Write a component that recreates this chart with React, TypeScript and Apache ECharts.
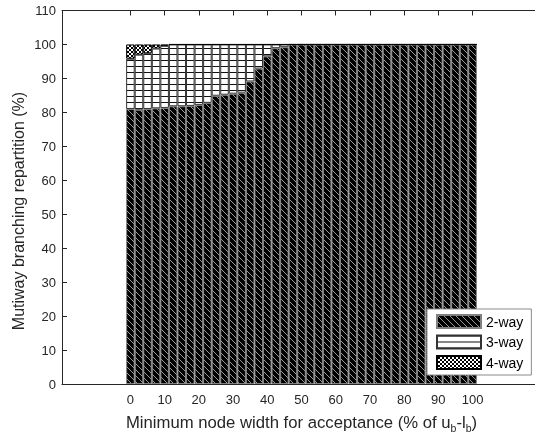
import React, { useEffect, useRef } from "react";
import * as echarts from "echarts";

// ---- data ----
const widths = [0, 2.5, 5, 7.5, 10, 12.5, 15, 17.5, 20, 22.5, 25, 27.5, 30, 32.5, 35, 37.5, 40, 42.5, 45, 47.5,
  50, 52.5, 55, 57.5, 60, 62.5, 65, 67.5, 70, 72.5, 75, 77.5, 80, 82.5, 85, 87.5, 90, 92.5, 95, 97.5, 100];
const twoWay = [81.0, 80.8, 81.0, 81.2, 81.3, 81.8, 81.8, 81.9, 82.2, 82.8, 84.9, 85.2, 85.5, 85.8, 89.1, 92.9, 96.5, 98.9, 99.2, 100,
  100, 100, 100, 100, 100, 100, 100, 100, 100, 100, 100, 100, 100, 100, 100, 100, 100, 100, 100, 100, 100];
const threeWay = [14.8, 16.2, 16.4, 17.6, 18.3, 18.2, 18.2, 18.1, 17.8, 17.2, 15.1, 14.8, 14.5, 14.2, 10.9, 7.1, 3.5, 1.1, 0.8, 0,
  0, 0, 0, 0, 0, 0, 0, 0, 0, 0, 0, 0, 0, 0, 0, 0, 0, 0, 0, 0, 0];
const fourWay = [4.2, 3.0, 2.6, 1.2, 0.4, 0, 0, 0, 0, 0, 0, 0, 0, 0, 0, 0, 0, 0, 0, 0,
  0, 0, 0, 0, 0, 0, 0, 0, 0, 0, 0, 0, 0, 0, 0, 0, 0, 0, 0, 0, 0];
const xTicks = [0, 10, 20, 30, 40, 50, 60, 70, 80, 90, 100];
const seriesNames = ["2-way", "3-way", "4-way"];

const FONT = "'Liberation Sans', Arial, Helvetica, sans-serif";
const AXIS_COLOR = "#262626";
const GRID = { left: 62, top: 10.5, width: 479, height: 373.5 };
const X_MIN = -20, X_MAX = 120, STEP = 2.5;

function makePattern(w: number, h: number, draw: (ctx: CanvasRenderingContext2D) => void) {
  const c = document.createElement("canvas");
  c.width = w; c.height = h;
  const ctx = c.getContext("2d")!;
  draw(ctx);
  return { image: c.toDataURL(), repeat: "repeat", imageWidth: w, imageHeight: h };
}

export default function App() {
  const ref = useRef<HTMLDivElement>(null);
  useEffect(() => {
    if (!ref.current) return;
    const chart = echarts.init(ref.current, undefined, { renderer: "svg" });

    const diag = makePattern(6, 6, (ctx) => {
      ctx.fillStyle = "#000"; ctx.fillRect(0, 0, 6, 6);
      ctx.fillStyle = "#9a9a9a";
      for (let i = 0; i < 6; i++) ctx.fillRect(i, i, 1, 1);
    });
    const hlines = makePattern(8, 6, (ctx) => {
      ctx.fillStyle = "#fff"; ctx.fillRect(0, 0, 8, 6);
      ctx.fillStyle = "#111"; ctx.fillRect(0, 0, 8, 1);
    });
    const cross = makePattern(4, 4, (ctx) => {
      ctx.fillStyle = "#fff"; ctx.fillRect(0, 0, 4, 4);
      ctx.fillStyle = "#000";
      for (let i = 0; i < 4; i++) { ctx.fillRect(i, i, 1, 1); ctx.fillRect(3 - i, i, 1, 1); }
    });

    // hidden category axis spanning X_MIN..X_MAX with one slot per STEP, so bars stack by index
    const padL = Math.round((widths[0] - X_MIN) / STEP);
    const padR = Math.round((X_MAX - widths[widths.length - 1]) / STEP);
    const cats: string[] = [];
    for (let i = 0; i < padL; i++) cats.push("l" + i);
    widths.forEach((w) => cats.push(String(w)));
    for (let i = 0; i < padR; i++) cats.push("r" + i);
    const pad = (vals: number[]) => [
      ...new Array(padL).fill("-"),
      ...vals,
      ...new Array(padR).fill("-"),
    ];

    const barWidth = (STEP * GRID.width) / (X_MAX - X_MIN);
    const mk = (name: string, vals: number[], color: any, border: string) => ({
      name,
      type: "bar",
      stack: "total",
      xAxisIndex: 0,
      yAxisIndex: 0,
      barWidth,
      data: pad(vals),
      itemStyle: { color, borderColor: border, borderWidth: 1 },
      emphasis: { disabled: true },
      silent: true,
    });

    const valueX = (position: string, labels: boolean) => ({
      type: "value",
      min: X_MIN, max: X_MAX, interval: 10,
      position,
      axisLine: { show: true, onZero: false, lineStyle: { color: AXIS_COLOR, width: 1 } },
      axisTick: { show: true, inside: true, length: 5, customValues: xTicks, lineStyle: { color: AXIS_COLOR } },
      axisLabel: labels
        ? { customValues: xTicks, fontFamily: FONT, fontSize: 13, color: AXIS_COLOR, margin: 9 }
        : { show: false },
      splitLine: { show: false },
    });

    chart.setOption({
      animation: false,
      grid: { ...GRID, outerBoundsMode: "none", containLabel: false },
      legend: {
        data: seriesNames,
        orient: "vertical",
        left: 427,
        top: 309,
        padding: [5, 8, 5, 9],
        itemGap: 5.5,
        itemWidth: 44,
        itemHeight: 13,
        icon: "rect",
        backgroundColor: "#fff",
        borderColor: "#8a8a8a",
        borderWidth: 1,
        borderRadius: 0,
        textStyle: { fontFamily: FONT, fontSize: 14, lineHeight: 13, color: "#000" },
        selectedMode: false,
      },
      xAxis: [
        {
          type: "category",
          data: cats,
          boundaryGap: false,
          position: "bottom",
          axisLine: { show: false },
          axisTick: { show: false },
          axisLabel: { show: false },
          splitLine: { show: false },
        },
        {
          ...valueX("bottom", true),
          name: "Minimum node width for acceptance (% of u{sub|b}-l{sub|b})",
          nameLocation: "middle",
          nameGap: 28,
          nameTextStyle: {
            fontFamily: FONT, fontSize: 16.7, color: AXIS_COLOR,
            rich: { sub: { fontFamily: FONT, fontSize: 10.5, color: AXIS_COLOR, padding: [10, 0, 0, 0] } },
          },
        },
        valueX("top", false),
      ],
      yAxis: [
        {
          type: "value",
          min: 0, max: 110, interval: 10,
          position: "left",
          axisLine: { show: true, onZero: false, lineStyle: { color: AXIS_COLOR, width: 1 } },
          axisTick: { show: true, inside: true, length: 5, lineStyle: { color: AXIS_COLOR } },
          axisLabel: { fontFamily: FONT, fontSize: 13, color: AXIS_COLOR, margin: 6 },
          splitLine: { show: false },
        },
        {
          type: "value",
          min: 0, max: 110, interval: 10,
          position: "right",
          axisLine: { show: true, onZero: false, lineStyle: { color: AXIS_COLOR, width: 1 } },
          axisTick: { show: true, inside: true, length: 5, lineStyle: { color: AXIS_COLOR } },
          axisLabel: { show: false },
          splitLine: { show: false },
        },
      ],
      graphic: [
        {
          type: "text",
          x: 18,
          y: 211,
          rotation: Math.PI / 2,
          style: {
            text: "Mutiway branching repartition (%)",
            fontFamily: FONT,
            fontSize: 16,
            fill: AXIS_COLOR,
            align: "center",
            verticalAlign: "middle",
          },
        },
      ],
      series: [
        mk(seriesNames[0], twoWay, diag, "#808080"),
        mk(seriesNames[1], threeWay, hlines, "#333"),
        mk(seriesNames[2], fourWay, cross, "#000"),
      ],
    });
    return () => chart.dispose();
  }, []);
  return <div ref={ref} style={{ position: "fixed", left: 0, top: 0, width: 535, height: 439 }} />;
}
